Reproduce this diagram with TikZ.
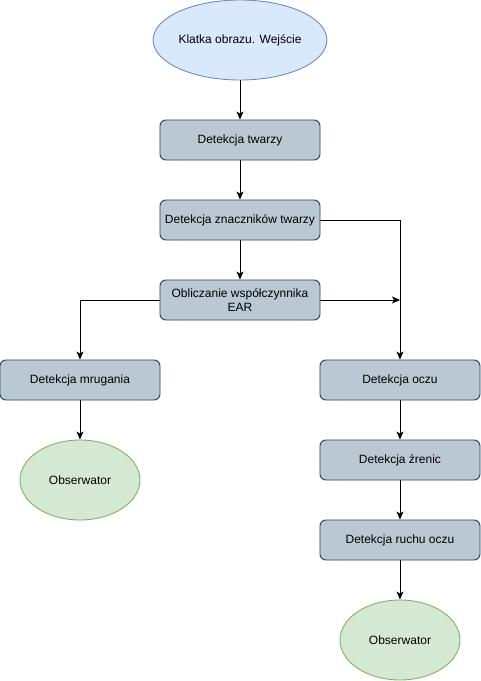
\documentclass[tikz,border=0pt]{standalone}
\usepackage{fontspec}
\setmainfont{Liberation Sans}
\usetikzlibrary{shapes.geometric,arrows.meta}
\definecolor{blueF}{HTML}{DAE8FC}
\definecolor{blueS}{HTML}{6C8EBF}
\definecolor{grayF}{HTML}{BAC8D3}
\definecolor{grayS}{HTML}{23445D}
\definecolor{greenF}{HTML}{D5E8D4}
\definecolor{greenS}{HTML}{82B366}
\tikzset{
  stepbox/.style={draw=grayS, fill=grayF, rounded corners=6pt, minimum width=160pt, minimum height=40pt, inner sep=0pt, align=center, font=\fontsize{12}{14}\selectfont, line width=0.9pt},
  startell/.style={ellipse, draw=blueS, fill=blueF, minimum width=160pt, minimum height=80pt, inner sep=0pt, font=\fontsize{12}{14}\selectfont, line width=0.9pt},
  endell/.style={ellipse, draw=greenS, fill=greenF, minimum width=120pt, minimum height=80pt, inner sep=0pt, font=\fontsize{12}{14}\selectfont, line width=0.9pt},
  conn/.style={draw=black, line width=0.9pt, -{Stealth[length=8pt,width=7pt,inset=2pt]}}
}
\begin{document}
\begin{tikzpicture}[x=1pt,y=-1pt]
\useasboundingbox (0,0) rectangle (481,681);
\node[startell] (start) at (240,40) {Klatka obrazu. Wejście};
\node[stepbox] (twarz) at (240,140) {Detekcja twarzy};
\node[stepbox] (znacz) at (240,220) {Detekcja znaczników twarzy};
\node[stepbox] (ear) at (240,300) {Obliczanie współczynnika\\EAR};
\node[stepbox] (mrug) at (80,380) {Detekcja mrugania};
\node[endell] (obs1) at (80,480) {Obserwator};
\node[stepbox] (oczu) at (400,380) {Detekcja oczu};
\node[stepbox] (zren) at (400,460) {Detekcja źrenic};
\node[stepbox] (ruch) at (400,540) {Detekcja ruchu oczu};
\node[endell] (obs2) at (400,640) {Obserwator};
\coordinate (j) at (400,300);
\draw[conn] (start) -- (twarz);
\draw[conn] (twarz) -- (znacz);
\draw[conn] (znacz) -- (ear);
\draw[conn] (znacz.east) -| (oczu.north);
\draw[conn] (ear.east) -- (j);
\draw[conn] (ear.west) -| (mrug.north);
\draw[conn] (mrug) -- (obs1);
\draw[conn] (oczu) -- (zren);
\draw[conn] (zren) -- (ruch);
\draw[conn] (ruch) -- (obs2);
\end{tikzpicture}
\end{document}
